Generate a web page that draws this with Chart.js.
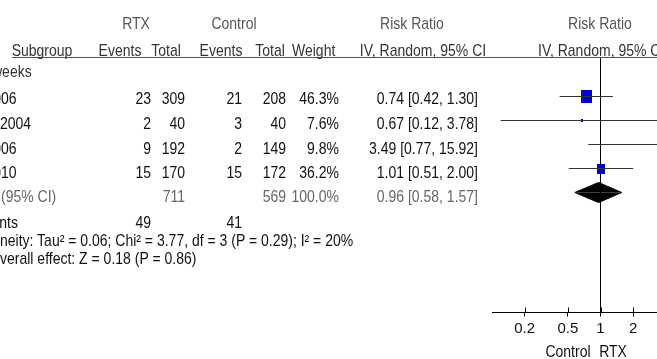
<!DOCTYPE html>
<html>
<head>
<meta charset="utf-8">
<script src="https://cdn.jsdelivr.net/npm/chart.js@4.4.1/dist/chart.umd.min.js"></script>
<style>
  html, body { margin: 0; padding: 0; background: #fff; overflow: hidden; }
  body { width: 657px; height: 359px; position: relative; }
  #plot { position: absolute; left: 0; top: 0; }
  .t { position: absolute; white-space: nowrap; font-family: "Liberation Sans", Arial, sans-serif;
       font-size: 14px; line-height: 16px; color: #111; }
  .h1 { color: #555; }
  .h2 { color: #333; }
  .tot { color: #666; }
  #rule { position: absolute; left: 12px; top: 57px; width: 645px; height: 1px; background: #555; }
</style>
</head>
<body>
<canvas id="plot" width="720" height="359"></canvas>
<div id="rule"></div>
<script>
// study rows (names are cut off on the left in the source picture)
const studyLabels = ['2006', '2004', '2006', '2010'];
const rtxEvents = [23, 2, 9, 15];
const rtxTotal = [309, 40, 192, 170];
const ctlEvents = [21, 3, 2, 15];
const ctlTotal = [208, 40, 149, 172];
const weights = [46.3, 7.6, 9.8, 36.2];
const riskRatio = [0.74, 0.67, 3.49, 1.01];
const ciLow = [0.42, 0.12, 0.77, 0.51];
const ciHigh = [1.30, 3.78, 15.92, 2.00];

// pooled result
const pooledRR = 0.96;
const pooledLow = 0.58;
const pooledHigh = 1.57;
const pooledTotals = [711, 569];
const pooledWeight = 100.0;
const totalEvents = [49, 41];

const tickValues = [0.2, 0.5, 1, 2, 5];
const heterogeneityText = 'neity: Tau\u00b2 = 0.06; Chi\u00b2 = 3.77, df = 3 (P = 0.29); I\u00b2 = 20%';
const overallText = 'verall effect: Z = 0.18 (P = 0.86)';

// ---- text table ----
function put(text, x, y, align, cls) {
  const el = document.createElement('div');
  el.className = 't ' + (cls || '');
  el.textContent = text;
  el.style.left = x + 'px';
  el.style.top = y + 'px';
  const tx = align === 'right' ? '-100%' : align === 'center' ? '-50%' : '0';
  el.style.transform = 'translate(' + tx + ', -50%) scaleY(1.15)';
  el.style.transformOrigin = align === 'right' ? 'right center' : align === 'center' ? 'center' : 'left center';
  document.body.appendChild(el);
}
const fmtCI = (r, lo, hi) => r.toFixed(2) + ' [' + lo.toFixed(2) + ', ' + hi.toFixed(2) + ']';

put('RTX', 136, 23, 'center', 'h1');
put('Control', 234, 23, 'center', 'h1');
put('Risk Ratio', 412, 23, 'center', 'h1');
put('Risk Ratio', 600, 23, 'center', 'h1');
put('Subgroup', 42, 50, 'center', 'h2');
put('Events', 120, 50, 'center', 'h2');
put('Total', 166, 50, 'center', 'h2');
put('Events', 221, 50, 'center', 'h2');
put('Total', 270, 50, 'center', 'h2');
put('Weight', 292, 50, 'left', 'h2');
put('IV, Random, 95% CI', 423, 50, 'center', 'h2');
put('IV, Random, 95% CI', 538, 50, 'left', 'h2');
put('weeks', -8, 71, 'left', 'h2');

const rowY = [98, 123, 148, 172];
const labelShift = [-14.5, 0, -14.5, -14.5];
studyLabels.forEach((s, i) => {
  const y = rowY[i];
  put(s, labelShift[i], y, 'left');
  put(String(rtxEvents[i]), 151, y, 'right');
  put(String(rtxTotal[i]), 185, y, 'right');
  put(String(ctlEvents[i]), 242, y, 'right');
  put(String(ctlTotal[i]), 286, y, 'right');
  put(weights[i].toFixed(1) + '%', 339, y, 'right');
  put(fmtCI(riskRatio[i], ciLow[i], ciHigh[i]), 478, y, 'right');
});
put('(95% CI)', 1, 196, 'left', 'tot');
put(String(pooledTotals[0]), 185, 196, 'right', 'tot');
put(String(pooledTotals[1]), 286, 196, 'right', 'tot');
put(pooledWeight.toFixed(1) + '%', 339, 196, 'right', 'tot');
put(fmtCI(pooledRR, pooledLow, pooledHigh), 478, 196, 'right', 'tot');
put('ents', -8.5, 222, 'left');
put(String(totalEvents[0]), 151, 222, 'right');
put(String(totalEvents[1]), 242, 222, 'right');
put(heterogeneityText, 0, 240, 'left');
put(overallText, 0, 258, 'left');
put('Control', 568, 351, 'center');
put('RTX', 613, 351, 'center');

// ---- forest plot ----
function squareImage(w) {
  const c = document.createElement('canvas');
  c.width = Math.max(2, Math.round(w * 0.23));
  c.height = Math.max(3, Math.round(w * 0.29));
  const g = c.getContext('2d');
  g.fillStyle = '#0000cc';
  g.fillRect(0, 0, c.width, c.height);
  return c;
}

const datasets = [];
riskRatio.forEach((r, i) => {
  datasets.push({
    type: 'line',
    data: [{ x: ciLow[i], y: i + 1 }, { x: ciHigh[i], y: i + 1 }],
    borderColor: '#333',
    borderWidth: 1,
    pointRadius: 0
  });
});
datasets.push({
  type: 'scatter',
  data: riskRatio.map((r, i) => ({ x: r, y: i + 1 })),
  pointStyle: ctx => squareImage(weights[ctx.dataIndex]),
  pointRadius: 5
});
const pooledRow = riskRatio.length + 1;
const half = 0.42;
[-half, half].forEach(d => {
  datasets.push({
    type: 'line',
    data: [{ x: pooledLow, y: pooledRow }, { x: pooledRR, y: pooledRow + d }, { x: pooledHigh, y: pooledRow }],
    borderColor: '#000',
    backgroundColor: '#000',
    borderWidth: 1,
    pointRadius: 0,
    tension: 0,
    fill: { value: pooledRow }
  });
});

const crossTicks = {
  id: 'crossTicks',
  afterDraw(chart) {
    const s = chart.scales.x;
    const g = chart.ctx;
    g.save();
    g.strokeStyle = '#000';
    g.lineWidth = 1;
    tickValues.forEach(v => {
      const px = Math.round(s.getPixelForValue(v)) + 0.5;
      g.beginPath();
      g.moveTo(px, s.top - 5);
      g.lineTo(px, s.top);
      g.stroke();
    });
    g.restore();
  }
};

new Chart(document.getElementById('plot'), {
  data: { datasets },
  options: {
    responsive: false,
    animation: false,
    devicePixelRatio: 1,
    layout: { padding: { top: 57, left: 492, right: 11, bottom: 0 } },
    plugins: { legend: { display: false }, tooltip: { enabled: false } },
    scales: {
      x: {
        type: 'logarithmic',
        position: 'bottom',
        min: 0.1,
        max: 10,
        afterBuildTicks: s => { s.ticks = tickValues.map(v => ({ value: v })); },
        afterFit: s => { s.height = 46.5; },
        border: { color: '#000', width: 1 },
        grid: {
          color: ctx => (ctx.tick && ctx.tick.value === 1) ? '#000' : 'rgba(0,0,0,0)',
          tickColor: '#000',
          tickLength: 4,
          lineWidth: 1
        },
        ticks: {
          color: '#111',
          padding: 3,
          maxRotation: 0,
          autoSkip: false,
          font: { family: 'Liberation Sans', size: 15 },
          callback: v => String(v)
        }
      },
      y: {
        type: 'linear',
        display: false,
        reverse: true,
        min: -0.646,
        max: 10
      }
    }
  },
  plugins: [crossTicks]
});
</script>
</body>
</html>
